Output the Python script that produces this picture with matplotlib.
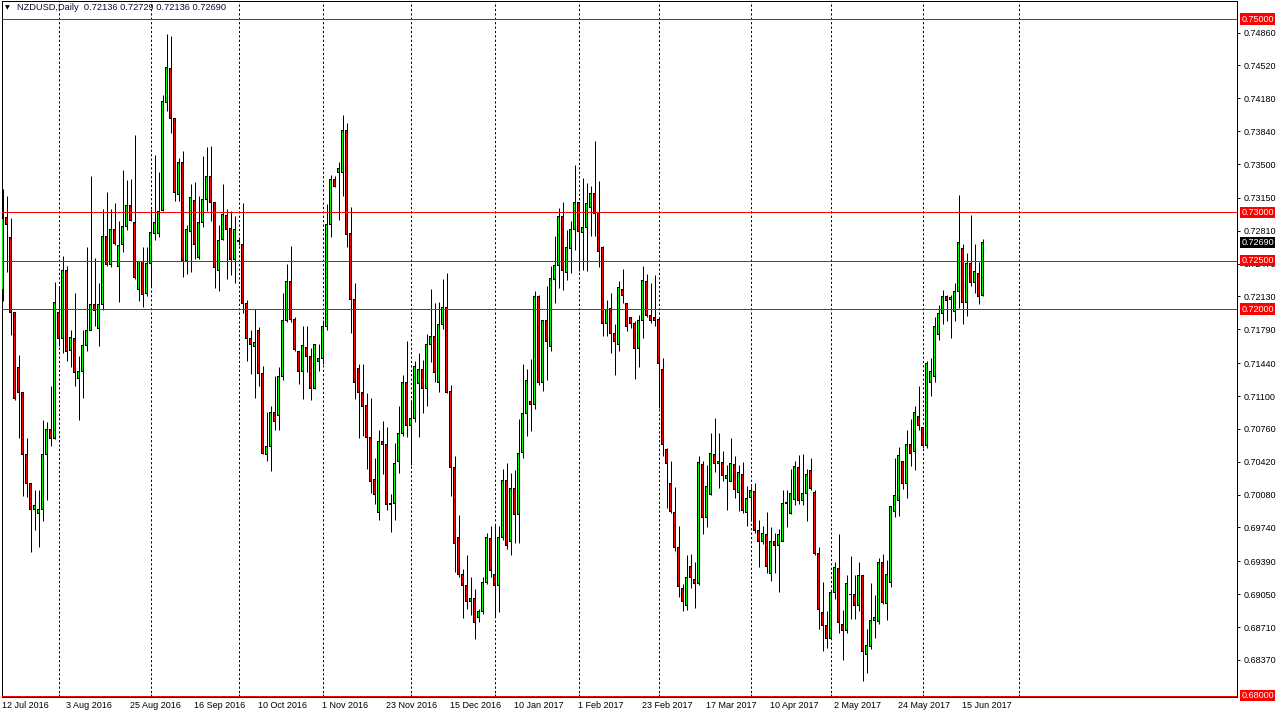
import matplotlib
matplotlib.use('Agg')
import matplotlib.pyplot as plt
import matplotlib.transforms as mtransforms
import numpy as np

plt.rcParams['font.family'] = ['Liberation Sans', 'DejaVu Sans']

# daily NZDUSD candles, 12 Jul 2016 .. 22 Jun 2017
opens = [
    0.7220, 0.7295, 0.7274, 0.7196, 0.7140, 0.7114, 0.7050, 0.7020, 0.6993, 0.6988,
    0.6993, 0.7050, 0.7075, 0.7066, 0.7196, 0.7169, 0.7240, 0.7157, 0.7170, 0.7128,
    0.7135, 0.7162, 0.7178, 0.7205, 0.7180, 0.7205, 0.7275, 0.7246, 0.7282, 0.7244,
    0.7267, 0.7285, 0.7307, 0.7289, 0.7220, 0.7249, 0.7216, 0.7247, 0.7278, 0.7278,
    0.7302, 0.7414, 0.7449, 0.7397, 0.7318, 0.7352, 0.7250, 0.7280, 0.7312, 0.7253,
    0.7290, 0.7313, 0.7337, 0.7310, 0.7240, 0.7272, 0.7297, 0.7283, 0.7251, 0.7271,
    0.7267, 0.7206, 0.7169, 0.7161, 0.7178, 0.7133, 0.7050, 0.7058, 0.7093, 0.7090,
    0.7130, 0.7188, 0.7228, 0.7189, 0.7156, 0.7135, 0.7160, 0.7151, 0.7118, 0.7146,
    0.7149, 0.7182, 0.7287, 0.7334, 0.7341, 0.7341, 0.7385, 0.7278, 0.7210, 0.7138,
    0.7114, 0.7100, 0.7067, 0.7024, 0.6989, 0.7063, 0.7060, 0.6998, 0.6999, 0.7042,
    0.7071, 0.7124, 0.7080, 0.7087, 0.7123, 0.7137, 0.7118, 0.7163, 0.7172, 0.7124,
    0.7184, 0.7202, 0.7115, 0.7036, 0.6964, 0.6925, 0.6914, 0.6897, 0.6901, 0.6881,
    0.6887, 0.6917, 0.6963, 0.6925, 0.6914, 0.6964, 0.7023, 0.6960, 0.7014, 0.6987,
    0.7052, 0.7092, 0.7104, 0.7101, 0.7213, 0.7124, 0.7188, 0.7161, 0.7231, 0.7245,
    0.7296, 0.7238, 0.7263, 0.7282, 0.7310, 0.7279, 0.7284, 0.7305, 0.7319, 0.7299,
    0.7264, 0.7185, 0.7201, 0.7175, 0.7163, 0.7220, 0.7206, 0.7191, 0.7185, 0.7159,
    0.7188, 0.7228, 0.7193, 0.7191, 0.7189, 0.7137, 0.7055, 0.7019, 0.6989, 0.6953,
    0.6911, 0.6893, 0.6934, 0.6920, 0.6916, 0.7039, 0.6984, 0.7008, 0.7050, 0.7040,
    0.7041, 0.7025, 0.7022, 0.7039, 0.7010, 0.7029, 0.6989, 0.7005, 0.7011, 0.6971,
    0.6960, 0.6967, 0.6926, 0.6959, 0.6955, 0.6960, 0.6999, 0.6988, 0.7003, 0.7036,
    0.7002, 0.7009, 0.7033, 0.7010, 0.6947, 0.6886, 0.6873, 0.6859, 0.6907, 0.6932,
    0.6874, 0.6867, 0.6905, 0.6905, 0.6893, 0.6924, 0.6843, 0.6851, 0.6878, 0.6877,
    0.6938, 0.6895, 0.6917, 0.6991, 0.7002, 0.7042, 0.7020, 0.7060, 0.7053, 0.7089,
    0.7077, 0.7059, 0.7124, 0.7130, 0.7174, 0.7195, 0.7213, 0.7210, 0.7197, 0.7218,
    0.7263, 0.7207, 0.7247, 0.7227, 0.7237, 0.72136,
]
highs = [
    0.7324, 0.7317, 0.7294, 0.7197, 0.7152, 0.7114, 0.7067, 0.7020, 0.7013, 0.7013,
    0.7085, 0.7083, 0.7120, 0.7228, 0.7224, 0.7255, 0.7244, 0.7178, 0.7217, 0.7151,
    0.7178, 0.7264, 0.7338, 0.7253, 0.7227, 0.7303, 0.7321, 0.7303, 0.7310, 0.7291,
    0.7344, 0.7333, 0.7335, 0.7380, 0.7249, 0.7264, 0.7264, 0.7303, 0.7359, 0.7342,
    0.7421, 0.7485, 0.7482, 0.7397, 0.7356, 0.7363, 0.7287, 0.7329, 0.7331, 0.7317,
    0.7358, 0.7368, 0.7369, 0.7310, 0.7287, 0.7329, 0.7303, 0.7301, 0.7296, 0.7275,
    0.7310, 0.7209, 0.7178, 0.7200, 0.7181, 0.7141, 0.7093, 0.7100, 0.7131, 0.7140,
    0.7217, 0.7247, 0.7265, 0.7192, 0.7157, 0.7182, 0.7182, 0.7160, 0.7164, 0.7164,
    0.7189, 0.7309, 0.7339, 0.7338, 0.7352, 0.7401, 0.7392, 0.7306, 0.7227, 0.7143,
    0.7143, 0.7113, 0.7108, 0.7046, 0.7075, 0.7084, 0.7078, 0.7009, 0.7061, 0.7100,
    0.7132, 0.7167, 0.7106, 0.7146, 0.7155, 0.7147, 0.7174, 0.7221, 0.7206, 0.7207,
    0.7231, 0.7237, 0.7121, 0.7048, 0.6987, 0.6931, 0.6946, 0.6923, 0.6910, 0.6890,
    0.6923, 0.6968, 0.6976, 0.6977, 0.6976, 0.7035, 0.7041, 0.7030, 0.7033, 0.7086,
    0.7143, 0.7138, 0.7148, 0.7219, 0.7215, 0.7188, 0.7224, 0.7244, 0.7276, 0.7305,
    0.7311, 0.7282, 0.7291, 0.7349, 0.7310, 0.7336, 0.7330, 0.7327, 0.7374, 0.7332,
    0.7265, 0.7209, 0.7217, 0.7185, 0.7229, 0.7241, 0.7206, 0.7192, 0.7188, 0.7194,
    0.7244, 0.7236, 0.7227, 0.7235, 0.7192, 0.7149, 0.7056, 0.7043, 0.7016, 0.6976,
    0.6916, 0.6946, 0.6947, 0.6938, 0.7048, 0.7043, 0.7039, 0.7072, 0.7087, 0.7072,
    0.7053, 0.7039, 0.7067, 0.7048, 0.7039, 0.7042, 0.7017, 0.7017, 0.7020, 0.6982,
    0.6976, 0.6990, 0.6975, 0.6968, 0.6972, 0.7013, 0.7013, 0.7034, 0.7043, 0.7049,
    0.7050, 0.7034, 0.7046, 0.7013, 0.6954, 0.6918, 0.6888, 0.6908, 0.6938, 0.6967,
    0.6889, 0.6925, 0.6944, 0.6925, 0.6938, 0.6924, 0.6869, 0.6917, 0.6904, 0.6942,
    0.6947, 0.6940, 0.6996, 0.7046, 0.7057, 0.7043, 0.7075, 0.7086, 0.7100, 0.7120,
    0.7077, 0.7146, 0.7149, 0.7192, 0.7204, 0.7220, 0.7215, 0.7215, 0.7227, 0.7318,
    0.7267, 0.7258, 0.7297, 0.7267, 0.7249, 0.72729,
]
lows = [
    0.7208, 0.7238, 0.7173, 0.7106, 0.7067, 0.7007, 0.7006, 0.6949, 0.6971, 0.6954,
    0.6981, 0.7002, 0.7058, 0.7066, 0.7162, 0.7155, 0.7146, 0.7140, 0.7120, 0.7085,
    0.7108, 0.7157, 0.7178, 0.7182, 0.7162, 0.7199, 0.7244, 0.7243, 0.7266, 0.7207,
    0.7259, 0.7282, 0.7291, 0.7231, 0.7208, 0.7202, 0.7213, 0.7224, 0.7271, 0.7275,
    0.7301, 0.7405, 0.7382, 0.7312, 0.7312, 0.7233, 0.7236, 0.7238, 0.7252, 0.7252,
    0.7285, 0.7301, 0.7291, 0.7222, 0.7219, 0.7271, 0.7231, 0.7235, 0.7227, 0.7266,
    0.7196, 0.7146, 0.7133, 0.7108, 0.7120, 0.7050, 0.7043, 0.7032, 0.7075, 0.7075,
    0.7127, 0.7187, 0.7187, 0.7157, 0.7122, 0.7107, 0.7135, 0.7106, 0.7117, 0.7136,
    0.7143, 0.7178, 0.7275, 0.7326, 0.7292, 0.7317, 0.7264, 0.7175, 0.7107, 0.7067,
    0.7069, 0.7034, 0.7010, 0.6998, 0.6982, 0.7029, 0.6992, 0.6969, 0.6982, 0.7030,
    0.7069, 0.7068, 0.7039, 0.7083, 0.7068, 0.7092, 0.7100, 0.7145, 0.7124, 0.7114,
    0.7179, 0.7113, 0.7007, 0.6928, 0.6923, 0.6880, 0.6890, 0.6883, 0.6859, 0.6876,
    0.6885, 0.6916, 0.6923, 0.6882, 0.6887, 0.6961, 0.6952, 0.6946, 0.6958, 0.6958,
    0.7046, 0.7069, 0.7074, 0.7097, 0.7121, 0.7115, 0.7127, 0.7157, 0.7206, 0.7222,
    0.7220, 0.7230, 0.7237, 0.7261, 0.7239, 0.7240, 0.7239, 0.7276, 0.7276, 0.7243,
    0.7172, 0.7172, 0.7154, 0.7132, 0.7157, 0.7206, 0.7177, 0.7180, 0.7128, 0.7140,
    0.7170, 0.7192, 0.7186, 0.7182, 0.7098, 0.7048, 0.6994, 0.6989, 0.6950, 0.6902,
    0.6888, 0.6889, 0.6911, 0.6891, 0.6915, 0.6967, 0.6974, 0.7008, 0.7031, 0.7015,
    0.7022, 0.6992, 0.7022, 0.7005, 0.6991, 0.6989, 0.6976, 0.6981, 0.6968, 0.6933,
    0.6957, 0.6927, 0.6919, 0.6927, 0.6907, 0.6960, 0.6975, 0.6988, 0.6997, 0.6998,
    0.6997, 0.6981, 0.7013, 0.6946, 0.6869, 0.6846, 0.6849, 0.6859, 0.6900, 0.6865,
    0.6837, 0.6865, 0.6879, 0.6879, 0.6888, 0.6815, 0.6823, 0.6848, 0.6860, 0.6874,
    0.6895, 0.6878, 0.6912, 0.6985, 0.6986, 0.7014, 0.7004, 0.7038, 0.7033, 0.7075,
    0.7056, 0.7056, 0.7110, 0.7124, 0.7168, 0.7185, 0.7188, 0.7170, 0.7188, 0.7201,
    0.7184, 0.7193, 0.7224, 0.7217, 0.7205, 0.72136,
]
closes = [
    0.7294, 0.7287, 0.7196, 0.7107, 0.7114, 0.7050, 0.7020, 0.6993, 0.6997, 0.6993,
    0.7050, 0.7075, 0.7066, 0.7207, 0.7169, 0.7240, 0.7156, 0.7171, 0.7134, 0.7135,
    0.7162, 0.7178, 0.7205, 0.7198, 0.7205, 0.7275, 0.7246, 0.7282, 0.7268, 0.7266,
    0.7285, 0.7307, 0.7292, 0.7233, 0.7249, 0.7215, 0.7247, 0.7279, 0.7289, 0.7301,
    0.7415, 0.7450, 0.7397, 0.7321, 0.7352, 0.7250, 0.7282, 0.7315, 0.7267, 0.7290,
    0.7313, 0.7337, 0.7310, 0.7243, 0.7271, 0.7298, 0.7282, 0.7251, 0.7282, 0.7270,
    0.7206, 0.7170, 0.7163, 0.7165, 0.7133, 0.7051, 0.7058, 0.7093, 0.7084, 0.7130,
    0.7188, 0.7228, 0.7189, 0.7158, 0.7135, 0.7162, 0.7151, 0.7118, 0.7163, 0.7149,
    0.7182, 0.7287, 0.7334, 0.7327, 0.7345, 0.7385, 0.7277, 0.7210, 0.7124, 0.7114,
    0.7099, 0.7067, 0.7022, 0.7008, 0.7063, 0.7060, 0.6998, 0.6999, 0.7040, 0.7071,
    0.7124, 0.7080, 0.7087, 0.7141, 0.7137, 0.7118, 0.7163, 0.7172, 0.7134, 0.7184,
    0.7202, 0.7114, 0.7036, 0.6957, 0.6925, 0.6914, 0.6897, 0.6901, 0.6876, 0.6887,
    0.6917, 0.6964, 0.6929, 0.6914, 0.6964, 0.7023, 0.6955, 0.7014, 0.6987, 0.7051,
    0.7092, 0.7126, 0.7101, 0.7213, 0.7124, 0.7188, 0.7166, 0.7232, 0.7245, 0.7296,
    0.7240, 0.7264, 0.7282, 0.7310, 0.7280, 0.7284, 0.7309, 0.7319, 0.7299, 0.7260,
    0.7185, 0.7199, 0.7175, 0.7166, 0.7222, 0.7214, 0.7182, 0.7185, 0.7159, 0.7188,
    0.7229, 0.7193, 0.7188, 0.7188, 0.7144, 0.7060, 0.7040, 0.6991, 0.6953, 0.6913,
    0.6897, 0.6922, 0.6922, 0.6916, 0.7041, 0.6984, 0.7016, 0.7051, 0.7040, 0.7042,
    0.7028, 0.7028, 0.7040, 0.7013, 0.7031, 0.6992, 0.7004, 0.7012, 0.6971, 0.6960,
    0.6968, 0.6934, 0.6959, 0.6955, 0.6967, 0.6999, 0.7000, 0.7009, 0.7037, 0.7002,
    0.7009, 0.7029, 0.7014, 0.6947, 0.6889, 0.6873, 0.6859, 0.6907, 0.6933, 0.6876,
    0.6867, 0.6916, 0.6905, 0.6893, 0.6924, 0.6846, 0.6852, 0.6878, 0.6881, 0.6938,
    0.6896, 0.6925, 0.6996, 0.7007, 0.7048, 0.7020, 0.7060, 0.7051, 0.7093, 0.7080,
    0.7059, 0.7144, 0.7135, 0.7182, 0.7195, 0.7213, 0.7209, 0.7212, 0.7218, 0.7269,
    0.7207, 0.7247, 0.7227, 0.7239, 0.7213, 0.72690,
]

date_labels = ['12 Jul 2016', '3 Aug 2016', '25 Aug 2016', '16 Sep 2016', '10 Oct 2016',
               '1 Nov 2016', '23 Nov 2016', '15 Dec 2016', '10 Jan 2017', '1 Feb 2017',
               '23 Feb 2017', '17 Mar 2017', '10 Apr 2017', '2 May 2017', '24 May 2017',
               '15 Jun 2017']
label_every = 16
# first bar of every month (period separators)
month_starts = [14, 37, 59, 80, 102, 123, 144, 164, 187, 207, 230, 254]

price_ticks = [0.74860, 0.74520, 0.74180, 0.73840, 0.73500, 0.73150, 0.72810, 0.72470,
               0.72130, 0.71790, 0.71440, 0.71100, 0.70760, 0.70420, 0.70080, 0.69740,
               0.69390, 0.69050, 0.68710, 0.68370]
levels = [0.75000, 0.73000, 0.72500, 0.72000, 0.68000]
last_price = 0.72690
header = 'NZDUSD,Daily  0.72136 0.72729 0.72136 0.72690'

W, H = 1277, 717
fig = plt.figure(figsize=(W / 100, H / 100), dpi=100)
ax = fig.add_axes([1.5 / W, 1 - 697 / H, 1235.5 / W, 696 / H])
ax.set_xlim(-0.25, 308.625)
ymin, ymax = 0.679865, 0.751862
ax.set_ylim(ymin, ymax)
dy = (ymax - ymin) / 696  # one pixel in price units

o = np.array(opens)
h = np.array(highs)
l = np.array(lows)
c = np.array(closes)
x = np.arange(len(o))
up = c >= o
lo_b = np.minimum(o, c)
hi_b = np.maximum(o, c)

px = 0.72  # one pixel in points
# period separators
for b in month_starts:
    ax.axvline(b, color='black', lw=px, dashes=(2.2, 2.2), zorder=1)

# candles: black wick, black 3px body outline, 1px coloured core
ax.vlines(x, l, h, color='black', lw=px, zorder=2)
ax.bar(x, hi_b - lo_b + dy, bottom=lo_b - dy / 2, width=0.75, color='black',
       linewidth=0, zorder=3)
core_h = np.clip(hi_b - lo_b - dy, 0, None)
ax.bar(x, core_h, bottom=lo_b + dy / 2, width=0.25,
       color=np.where(up, '#00ff00', '#ff0000'), linewidth=0, zorder=4)

# horizontal levels
for lv in levels:
    ax.axhline(lv, color='#ff0000', lw=px, zorder=5)

for sp in ax.spines.values():
    sp.set_linewidth(px)
    sp.set_color('black')

# price axis on the right
ax.yaxis.tick_right()
ax.set_yticks(price_ticks)
ax.set_yticklabels(['%.5f' % p for p in price_ticks])
ax.tick_params(axis='y', direction='out', length=2.5, width=px, pad=2, labelsize=6.5,
               colors='black')
ax.set_xticks(month_starts)
ax.set_xticklabels([])
ax.tick_params(axis='x', direction='in', length=2.5, width=px)

lab_tr = ax.get_xaxis_transform() + mtransforms.ScaledTranslation(0, -4 / 100, fig.dpi_scale_trans)
for i, lab in enumerate(date_labels):
    ax.text(i * label_every, 0, lab, transform=lab_tr, ha='left', va='top', fontsize=6.5,
            color='black', clip_on=False)

box_tr = ax.get_yaxis_transform() + mtransforms.ScaledTranslation(4.5 / 100, 0, fig.dpi_scale_trans)
for lv in levels:
    ax.text(1.0, lv, '%.5f' % lv, transform=box_tr, ha='left', va='center', fontsize=6.5,
            color='white', zorder=10, clip_on=False,
            bbox=dict(boxstyle='square,pad=0.12', fc='#ff0000', ec='none'))
ax.text(1.0, last_price, '%.5f' % last_price, transform=box_tr, ha='left', va='center',
        fontsize=6.5, color='white', zorder=10, clip_on=False,
        bbox=dict(boxstyle='square,pad=0.12', fc='black', ec='none'))

# header line
fig.text(5 / W, 1 - 8 / H, '\u25bc', fontsize=4.5, family='DejaVu Sans', va='center', ha='left')
fig.text(17 / W, 1 - 8 / H, header, fontsize=6.7, va='center', ha='left', color='#0b0b2b')

fig.savefig('out.png', dpi=100, facecolor='white')
